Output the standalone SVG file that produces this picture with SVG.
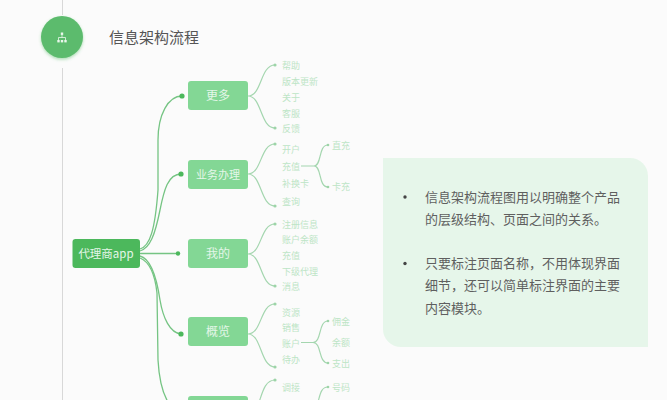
<svg xmlns="http://www.w3.org/2000/svg" width="667" height="400" viewBox="0 0 667 400">
<defs>
<style>
text{font-family:"Noto Sans CJK SC","Noto Sans",sans-serif}
.box{fill:#83d795}
.bt{fill:#e4f6e8;font-size:12px;text-anchor:middle}
.lf{fill:#bde5c6;font-size:9px}
.c1{fill:none;stroke:#75c483;stroke-width:1.3}
.c2{fill:none;stroke:#a4d6af;stroke-width:1.2}
.d1{fill:#4cb85c}
.d2{fill:#9dd4a8}
.p{fill:#5f5f5f;font-size:13px}
</style>
<filter id="sh" x="-30%" y="-30%" width="160%" height="160%"><feDropShadow dx="0" dy="1.500" stdDeviation="1.500" flood-color="#4cb85c" flood-opacity=".45"/></filter>
</defs>
<rect width="667" height="400" fill="#fbfbfb"/>
<g id="timeline"><path d="M62.500 0V15M62.500 68V400" stroke="#d8d8d8" stroke-width="1" fill="none"/></g>
<g id="header">
<circle cx="62" cy="37" r="21" fill="#5cbb6d" filter="url(#sh)"/>
<path d="M62 34v3.500M58.500 41v-3.500h7v3.500" stroke="#eaf7ec" stroke-width=".8" fill="none"/>
<rect x="60.800" y="32.500" width="2.400" height="2.400" fill="#eaf7ec"/><rect x="57.300" y="40" width="2.400" height="2.400" fill="#eaf7ec"/><rect x="60.800" y="40" width="2.400" height="2.400" fill="#eaf7ec"/><rect x="64.300" y="40" width="2.400" height="2.400" fill="#eaf7ec"/>
<text x="109" y="42.500" font-size="15" fill="#555">信息架构流程</text>
</g>
<g id="connectors">
<path class="c1" d="M140 249C150 246 155 230 158 190L158 140C158 115 168 96 182 96"/>
<path class="c1" d="M140 251C150 248 155 235 160 210C164 190 168 174 181 174"/>
<path class="c1" d="M140 253.500H178"/>
<path class="c1" d="M140 256C152 259 157 280 160 300C163 318 170 333 181 334"/>
<path class="c1" d="M140 258C150 262 155 275 157 293L158 360C159 378 162 392 168 402"/>
<path class="c2" d="M248 96C262 96 260 65 275 65M248 96C262 96 260 128 275 128"/>
<path class="c2" d="M248 174C262 174 260 144 275 144M248 174C262 174 260 206 275 206"/>
<path class="c2" d="M248 254C262 254 260 224 275 224M248 254C262 254 260 286 275 286"/>
<path class="c2" d="M248 334C262 334 260 304 275 304M248 334C262 334 260 367 275 367"/>
<path class="c2" d="M275 380C264 380 262 395 258 405"/>
<path class="c2" d="M301 166H314C322 166 318 145 328 145M314 166C322 166 318 187 328 187"/>
<path class="c2" d="M301 342.500H313C322 342.500 318 321 328 321M313 342.500C322 342.500 318 363 328 363"/>
<path class="c2" d="M317 405C320 397 320 387 328 387"/>
<circle class="d1" cx="182" cy="96" r="2.600"/><circle class="d1" cx="181" cy="174" r="2.600"/><circle class="d1" cx="178" cy="253.500" r="2.200"/><circle class="d1" cx="181" cy="334" r="2.600"/>
<circle class="d2" cx="275" cy="65" r="1.600"/><circle class="d2" cx="275" cy="128" r="1.600"/><circle class="d2" cx="275" cy="144" r="1.600"/><circle class="d2" cx="275" cy="206" r="1.600"/><circle class="d2" cx="275" cy="224" r="1.600"/><circle class="d2" cx="275" cy="286" r="1.600"/><circle class="d2" cx="275" cy="304" r="1.600"/><circle class="d2" cx="275" cy="367" r="1.600"/><circle class="d2" cx="275" cy="380" r="1.600"/>
<circle class="d2" cx="328" cy="145" r="1.300"/><circle class="d2" cx="328" cy="187" r="1.300"/><circle class="d2" cx="328" cy="321" r="1.300"/><circle class="d2" cx="328" cy="363" r="1.300"/><circle class="d2" cx="328" cy="387" r="1.300"/>
</g>
<g id="root"><rect x="72.500" y="239" width="67.500" height="29" rx="3" fill="#4cb85c"/><text x="106" y="257.500" font-size="11.500" fill="#e4f6e8" text-anchor="middle">代理商app</text></g>
<g id="n-more"><rect class="box" x="188" y="81" width="60" height="29" rx="3"/><text class="bt" x="218" y="100">更多</text></g>
<g id="n-biz"><rect class="box" x="188" y="160" width="60" height="29" rx="3"/><text class="bt" x="218" y="178.500" style="font-size:11px">业务办理</text></g>
<g id="n-mine"><rect class="box" x="188" y="239" width="60" height="29" rx="3"/><text class="bt" x="218" y="258">我的</text></g>
<g id="n-view"><rect class="box" x="188" y="317" width="60" height="29" rx="3"/><text class="bt" x="218" y="336">概览</text></g>
<g id="n-five"><rect class="box" x="188" y="396" width="60" height="29" rx="3"/></g>
<g id="leaves">
<text class="lf" x="282" y="68.500">帮助</text><text class="lf" x="282" y="84.500">版本更新</text><text class="lf" x="282" y="100.500">关于</text><text class="lf" x="282" y="116.500">客服</text><text class="lf" x="282" y="131.500">反馈</text>
<text class="lf" x="282" y="152.500">开户</text><text class="lf" x="282" y="170">充值</text><text class="lf" x="282" y="187">补换卡</text><text class="lf" x="282" y="204.500">查询</text>
<text class="lf" x="332" y="149">直充</text><text class="lf" x="332" y="190">卡充</text>
<text class="lf" x="282" y="227.500">注册信息</text><text class="lf" x="282" y="242.500">账户余额</text><text class="lf" x="282" y="259">充值</text><text class="lf" x="282" y="275">下级代理</text><text class="lf" x="282" y="290">消息</text>
<text class="lf" x="282" y="315.500">资源</text><text class="lf" x="282" y="331">销售</text><text class="lf" x="282" y="346.500">账户</text><text class="lf" x="282" y="363">待办</text>
<text class="lf" x="332" y="324.500">佣金</text><text class="lf" x="332" y="346">余额</text><text class="lf" x="332" y="366.500">支出</text>
<text class="lf" x="282" y="390.500">调接</text><text class="lf" x="332" y="390.500">号码</text>
</g>
<g id="panel">
<path d="M383 158H630A18 18 0 0 1 648 176V347H401A18 18 0 0 1 383 329Z" fill="#e6f6ea"/>
<circle cx="405" cy="197" r="1.700" fill="#444"/><circle cx="405" cy="263.500" r="1.700" fill="#444"/>
<text class="p" x="425" y="202">信息架构流程图用以明确整个产品</text>
<text class="p" x="425" y="224">的层级结构、页面之间的关系。</text>
<text class="p" x="425" y="268">只要标注页面名称，不用体现界面</text>
<text class="p" x="425" y="290">细节，还可以简单标注界面的主要</text>
<text class="p" x="425" y="313">内容模块。</text>
</g>
</svg>
